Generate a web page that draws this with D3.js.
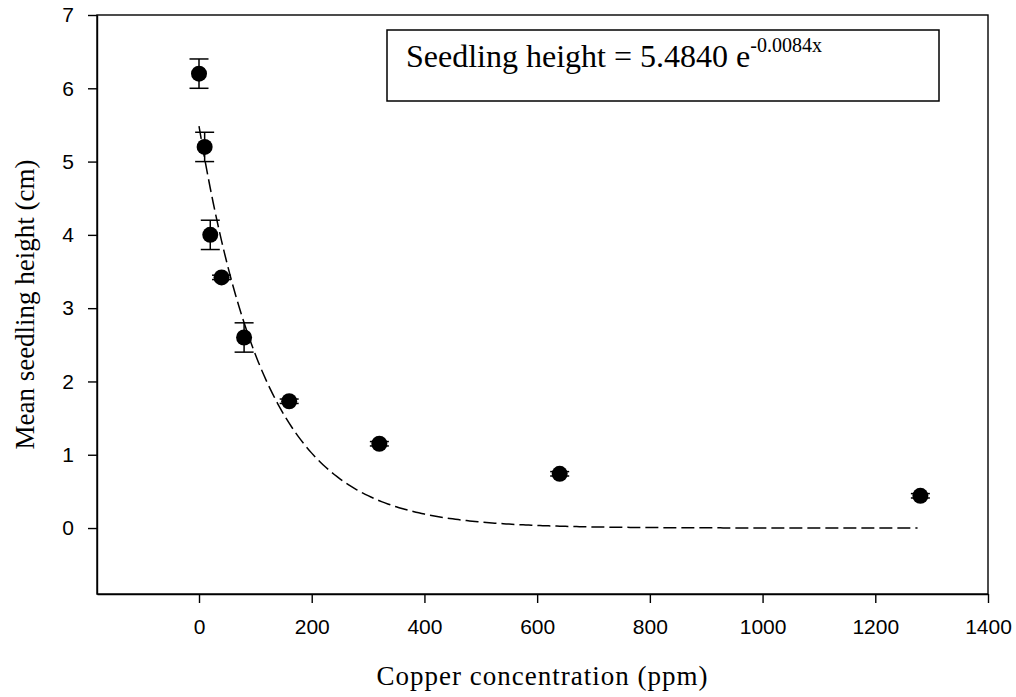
<!DOCTYPE html>
<html>
<head>
<meta charset="utf-8">
<script src="https://cdn.jsdelivr.net/npm/d3@7"></script>
<style>
  html, body { margin: 0; padding: 0; background: #fff; }
  svg { display: block; }
</style>
</head>
<body>
<svg id="chart" width="1016" height="697"></svg>
<script>
// ---- data ----
const copper = [0, 10, 20, 40, 80, 160, 320, 640, 1280];
const meanHeight = [6.2, 5.2, 4.0, 3.42, 2.6, 1.73, 1.15, 0.74, 0.44];
const stdErr = [0.2, 0.2, 0.2, 0.03, 0.2, 0.03, 0.03, 0.03, 0.03];
const xTicks = [0, 200, 400, 600, 800, 1000, 1200, 1400];
const yTicks = [0, 1, 2, 3, 4, 5, 6, 7];
const fitA = 5.4840, fitB = -0.0084;
const fitRange = [0, 1275];

const svg = d3.select("#chart");
const m = { left: 97, top: 15, right: 28, bottom: 103 };
const W = 1016 - m.left - m.right, H = 697 - m.top - m.bottom;

const x = d3.scaleLinear().domain([-181, 1400]).range([0, W]);
const y = d3.scaleLinear().domain([-0.9, 7]).range([H, 0]);

const g = svg.append("g").attr("transform", `translate(${m.left},${m.top})`);

// frame
g.append("rect").attr("x", 0).attr("y", 0).attr("width", W).attr("height", H)
  .attr("fill", "none").attr("stroke", "#000").attr("stroke-width", 1.4);

// axes
const xAxis = g.append("g").attr("transform", `translate(0,${H})`)
  .call(d3.axisBottom(x).tickValues(xTicks).tickFormat(d3.format("d"))
    .tickSize(9).tickPadding(16).tickSizeOuter(0));
const yAxis = g.append("g")
  .call(d3.axisLeft(y).tickValues(yTicks).tickFormat(d3.format("d"))
    .tickSize(9).tickPadding(14).tickSizeOuter(0));
[xAxis, yAxis].forEach(a => {
  a.select(".domain").attr("stroke", "#000").attr("stroke-width", 1.4);
  a.selectAll(".tick line").attr("stroke", "#000").attr("stroke-width", 1.4);
  a.selectAll(".tick text").attr("fill", "#000")
    .style("font-family", "Liberation Sans, Arial, sans-serif").style("font-size", "21px");
});

// fit curve
const fitX = d3.range(fitRange[0], fitRange[1] + 0.1, 5);
const line = d3.line().x(d => x(d)).y(d => y(fitA * Math.exp(fitB * d)));
g.append("path").datum(fitX).attr("d", line)
  .attr("fill", "none").attr("stroke", "#000").attr("stroke-width", 1.5)
  .attr("stroke-dasharray", "13,5");

// error bars
const data = copper.map((c, i) => ({ c, h: meanHeight[i], e: stdErr[i] }));
const eb = g.append("g").attr("stroke", "#000").attr("stroke-width", 1.5);
data.forEach(d => {
  const cx = x(d.c);
  eb.append("line").attr("x1", cx).attr("x2", cx).attr("y1", y(d.h - d.e)).attr("y2", y(d.h + d.e));
  [d.h - d.e, d.h + d.e].forEach(v => {
    eb.append("line").attr("x1", cx - 9.5).attr("x2", cx + 9.5).attr("y1", y(v)).attr("y2", y(v));
  });
});

// markers
g.append("g").selectAll("circle").data(data).join("circle")
  .attr("cx", d => x(d.c)).attr("cy", d => y(d.h)).attr("r", 8).attr("fill", "#000");

// equation box
svg.append("rect").attr("x", 387).attr("y", 30).attr("width", 552).attr("height", 71)
  .attr("fill", "#fff").attr("stroke", "#000").attr("stroke-width", 1.5);
const eq = svg.append("text").attr("x", 406).attr("y", 67)
  .style("font-family", "Liberation Serif, 'Times New Roman', serif").style("font-size", "32px").attr("fill", "#000");
eq.append("tspan").text("Seedling height = 5.4840 e");
eq.append("tspan").attr("dy", -15).style("font-size", "20px").text("-0.0084x");

// axis titles
svg.append("text").attr("x", m.left + W / 2).attr("y", 685).attr("text-anchor", "middle")
  .style("font-family", "Liberation Serif, 'Times New Roman', serif").style("font-size", "27px")
  .style("letter-spacing", "1px").attr("fill", "#000")
  .text("Copper concentration (ppm)");
svg.append("text").attr("transform", `translate(34,${m.top + H / 2}) rotate(-90)`)
  .attr("text-anchor", "middle")
  .style("font-family", "Liberation Serif, 'Times New Roman', serif").style("font-size", "27px")
  .attr("fill", "#000")
  .text("Mean seedling height (cm)");
</script>
</body>
</html>
